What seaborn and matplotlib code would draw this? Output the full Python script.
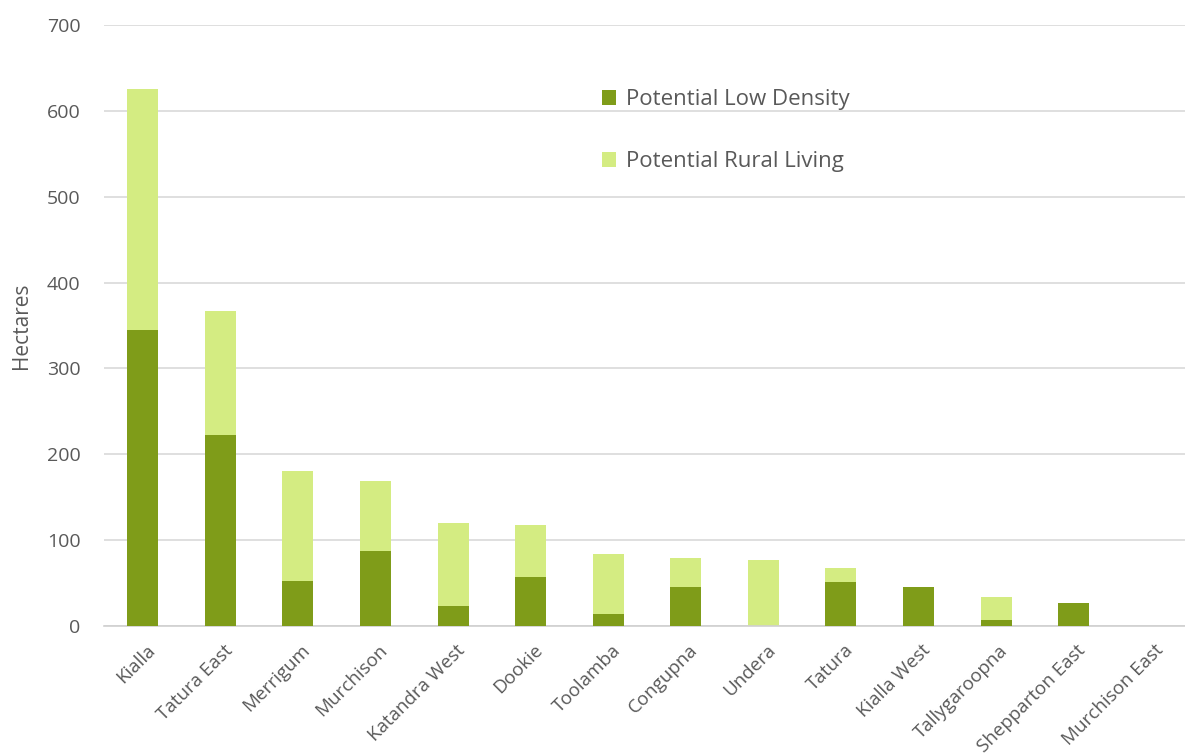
import matplotlib
matplotlib.use("Agg")
import matplotlib.pyplot as plt
import matplotlib.transforms as mtransforms
import seaborn as sns
import pandas as pd
from matplotlib.patches import Patch

categories = ["Kialla", "Tatura East", "Merrigum", "Murchison", "Katandra West",
              "Dookie", "Toolamba", "Congupna", "Undera", "Tatura", "Kialla West",
              "Tallygaroopna", "Shepparton East", "Murchison East"]
low_density = [345, 223, 52, 87, 23, 57, 14, 46, 0, 51, 46, 7, 27, 0]
rural_living = [280, 144, 129, 82, 97, 61, 70, 33, 77, 17, 0, 27, 0, 0]
series_names = ["Potential Low Density", "Potential Rural Living"]
y_ticks = [0, 100, 200, 300, 400, 500, 600, 700]

dark = "#7f9c19"
light = "#d4ec82"
text_col = "#595959"

sns.set_theme(style="white")
plt.rcParams["font.family"] = ["Open Sans", "DejaVu Sans"]

totals = [a + b for a, b in zip(low_density, rural_living)]
df = pd.DataFrame({"cat": categories, "low": low_density, "total": totals})

fig = plt.figure(figsize=(11.85, 7.56), dpi=100)
ax = fig.add_axes([104 / 1185, 1 - 626 / 756, 1086 / 1185, 601 / 756])

sns.barplot(data=df, x="cat", y="total", color=light, width=0.4, ax=ax,
            saturation=1, edgecolor="none", zorder=2)
sns.barplot(data=df, x="cat", y="low", color=dark, width=0.4, ax=ax,
            saturation=1, edgecolor="none", zorder=3)

ax.set_ylim(0, 700)
ax.set_xlim(-0.5, len(categories) - 0.5)
ax.set_yticks(y_ticks)
ax.yaxis.grid(True, color="#d9d9d9", linewidth=1.2, zorder=0)
ax.set_axisbelow(True)
for s in ["top", "right", "left"]:
    ax.spines[s].set_visible(False)
ax.spines["bottom"].set_color("#d0d0d0")
ax.spines["bottom"].set_linewidth(1.2)

ax.tick_params(axis="y", labelsize=14, labelcolor=text_col, length=0, pad=17)
ax.tick_params(axis="x", labelsize=13.5, labelcolor=text_col, length=0, pad=11)
offset = mtransforms.ScaledTranslation(3 / 100, 0, fig.dpi_scale_trans)
for lbl in ax.get_xticklabels():
    lbl.set_rotation(45)
    lbl.set_ha("right")
    lbl.set_rotation_mode("anchor")
    lbl.set_transform(lbl.get_transform() + offset)

ax.set_xlabel("")
ax.set_ylabel("Hectares", fontsize=15, color=text_col)
ax.yaxis.set_label_coords(-0.066, 0.5)

handles = [Patch(facecolor=dark, edgecolor="none"), Patch(facecolor=light, edgecolor="none")]
leg = ax.legend(handles, series_names, loc="upper left", bbox_to_anchor=(0.448, 0.912),
                frameon=False, fontsize=16, handlelength=0.65, handleheight=0.65,
                handletextpad=0.45, labelspacing=1.85, borderpad=0)
for t in leg.get_texts():
    t.set_color(text_col)

fig.savefig("out.png", dpi=100, facecolor="white")
